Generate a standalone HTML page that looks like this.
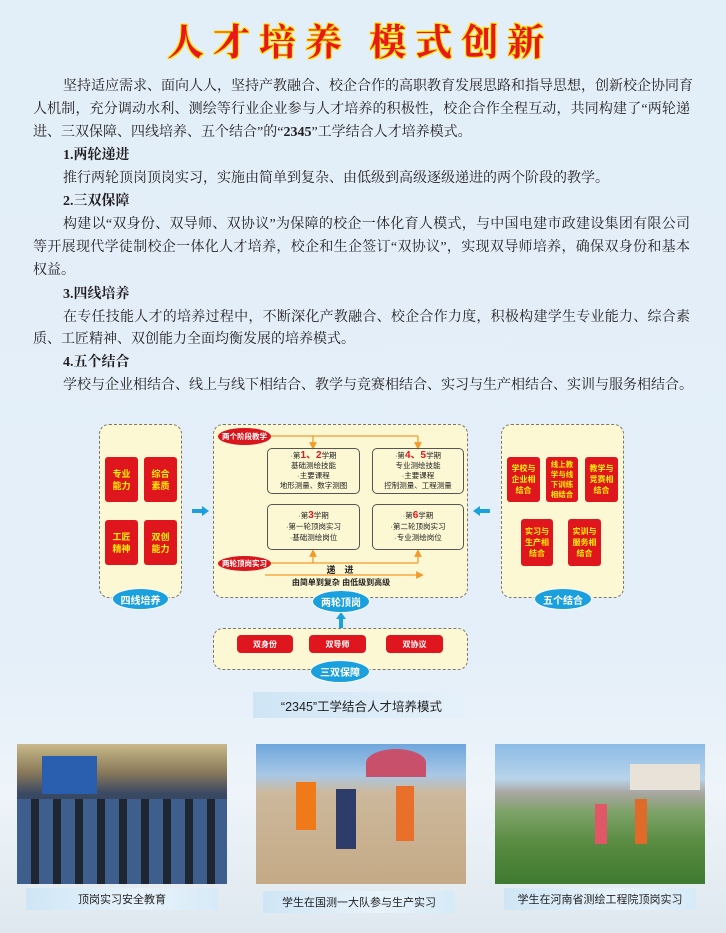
<!DOCTYPE html>
<html><head><meta charset="utf-8"><style>
*{margin:0;padding:0;box-sizing:border-box}
body{width:726px;height:933px;position:relative;overflow:hidden;background:linear-gradient(#e2eef8 0%,#e4eff9 70%,#eef4f9 85%,#dfe8ef 100%);font-family:"Liberation Serif","Noto Serif CJK SC",serif;color:#231f20}
.a{position:absolute}
.title{left:167px;top:16px;white-space:nowrap;font-family:"Noto Serif CJK SC",serif;font-weight:bold;font-size:37px;color:#e8161d;letter-spacing:9px;text-shadow:1px 1px 0 #ffe600,-1px -1px 0 #ffe600,1px -1px 0 #ffe600,-1px 1px 0 #ffe600;line-height:46px}
.ln{position:absolute;left:33px;width:657px;font-size:14px;line-height:20px;text-align:justify;text-align-last:justify;white-space:nowrap}
.ln.i{left:63px;width:627px}
.ln.l{text-align-last:left}
.h{font-weight:bold}
.box{position:absolute;background:#fcf8d4;border:1.5px dashed #777;border-radius:10px}
.rb{position:absolute;background:#e0161f;border-radius:3px;color:#fff200;font-family:"Liberation Sans","Noto Sans CJK SC",sans-serif;font-weight:bold;font-size:8px;line-height:11px;display:flex;align-items:center;justify-content:center;text-align:center}
.ov{position:absolute;background:#1aa0dd;border-radius:50%;color:#fff;font-family:"Liberation Sans","Noto Sans CJK SC",sans-serif;font-weight:bold;font-size:10px;display:flex;align-items:center;justify-content:center;border:1.5px solid #fff}
.ro{position:absolute;background:#d9151e;border-radius:50%;color:#fff;font-family:"Liberation Sans","Noto Sans CJK SC",sans-serif;font-weight:bold;font-size:7.5px;display:flex;align-items:center;justify-content:center}
.sb{position:absolute;border:1.3px solid #555;border-radius:5px;font-family:"Liberation Sans","Noto Sans CJK SC",sans-serif;font-size:7.5px;line-height:10px;text-align:center;color:#222;padding-top:2px}
.sb b{color:#e0161f;font-size:10px}
.btn{position:absolute;background:#e0161f;border-radius:4px;color:#fff;font-family:"Liberation Sans","Noto Sans CJK SC",sans-serif;font-size:8px;font-weight:bold;display:flex;align-items:center;justify-content:center}
.sans{font-family:"Liberation Sans","Noto Sans CJK SC",sans-serif}
.cap{position:absolute;background:linear-gradient(90deg,#cfe6f6,#e8f3fb 60%,#d6eaf7);font-family:"Liberation Sans","Noto Sans CJK SC",sans-serif;font-size:11px;color:#222;display:flex;align-items:center;justify-content:center}
</style></head><body>
<div class="a title">人才培养 模式创新</div>

<div class="ln i" style="top:77px">坚持适应需求、面向人人，坚持产教融合、校企合作的高职教育发展思路和指导思想，创新校企协同育</div>
<div class="ln" style="top:100px">人机制，充分调动水利、测绘等行业企业参与人才培养的积极性，校企合作全程互动，共同构建了“两轮递</div>
<div class="ln l" style="top:123px">进、三双保障、四线培养、五个结合”的“<b>2345</b>”工学结合人才培养模式。</div>
<div class="ln i l h" style="top:146px">1.两轮递进</div>
<div class="ln i l" style="top:169px">推行两轮顶岗顶岗实习，实施由简单到复杂、由低级到高级逐级递进的两个阶段的教学。</div>
<div class="ln i l h" style="top:192px">2.三双保障</div>
<div class="ln i" style="top:215px">构建以“双身份、双导师、双协议”为保障的校企一体化育人模式，与中国电建市政建设集团有限公司</div>
<div class="ln" style="top:238px">等开展现代学徒制校企一体化人才培养，校企和生企签订“双协议”，实现双导师培养，确保双身份和基本</div>
<div class="ln l" style="top:261px">权益。</div>
<div class="ln i l h" style="top:285px">3.四线培养</div>
<div class="ln i" style="top:308px">在专任技能人才的培养过程中，不断深化产教融合、校企合作力度，积极构建学生专业能力、综合素</div>
<div class="ln l" style="top:330px">质、工匠精神、双创能力全面均衡发展的培养模式。</div>
<div class="ln i l h" style="top:353px">4.五个结合</div>
<div class="ln i l" style="top:376px">学校与企业相结合、线上与线下相结合、教学与竞赛相结合、实习与生产相结合、实训与服务相结合。</div>

<!-- left -->
<div class="box" style="left:99px;top:424px;width:83px;height:174px"></div>
<div class="rb" style="left:105px;top:457px;width:33px;height:45px;font-size:9px;line-height:12px">专业<br>能力</div>
<div class="rb" style="left:144px;top:457px;width:33px;height:45px;font-size:9px;line-height:12px">综合<br>素质</div>
<div class="rb" style="left:105px;top:520px;width:33px;height:45px;font-size:9px;line-height:12px">工匠<br>精神</div>
<div class="rb" style="left:144px;top:520px;width:33px;height:45px;font-size:9px;line-height:12px">双创<br>能力</div>
<div class="ov" style="left:112px;top:588px;width:57px;height:22px">四线培养</div>

<!-- middle -->
<div class="box" style="left:213px;top:424px;width:255px;height:174px"></div>
<svg class="a" style="left:0;top:0" width="726" height="933">
<defs><marker id="ao" markerWidth="6" markerHeight="6" refX="3" refY="3" orient="auto"><path d="M0,0L6,3L0,6z" fill="#f39a2b"/></marker></defs>
<g stroke="#f39a2b" stroke-width="1.3" fill="none">
<path d="M270 436H418"/><path d="M313 436V446" marker-end="url(#ao)"/><path d="M418 436V446" marker-end="url(#ao)"/>
<path d="M270 563H418"/><path d="M313 563V553" marker-end="url(#ao)"/><path d="M418 563V553" marker-end="url(#ao)"/>
<path d="M265 575H420" marker-end="url(#ao)"/>
</g>
<g fill="#1aa0dd">
<path d="M192 509H202V506L209 511L202 516V513H192z"/>
<path d="M490 509H480V506L473 511L480 516V513H490z"/>
<path d="M339 628V619H336L341 612L346 619H343V628z"/>
</g>
</svg>
<div class="ro" style="left:218px;top:428px;width:53px;height:17px">两个阶段教学</div>
<div class="sb" style="left:267px;top:448px;width:93px;height:46px">·第<b>1、2</b>学期<br>基础测绘技能<br>·主要课程<br>地形测量、数字测图</div>
<div class="sb" style="left:372px;top:448px;width:92px;height:46px">·第<b>4、5</b>学期<br>专业测绘技能<br>·主要课程<br>控制测量、工程测量</div>
<div class="sb" style="left:267px;top:504px;width:93px;height:46px;padding-top:5px;line-height:11px">·第<b>3</b>学期<br>·第一轮顶岗实习<br>·基础测绘岗位</div>
<div class="sb" style="left:372px;top:504px;width:92px;height:46px;padding-top:5px;line-height:11px">·第<b>6</b>学期<br>·第二轮顶岗实习<br>·专业测绘岗位</div>
<div class="ro" style="left:218px;top:556px;width:53px;height:15px">两轮顶岗实习</div>
<div class="a sans" style="left:300px;top:563px;width:80px;text-align:center;font-size:9px;font-weight:bold">递　进</div>
<div class="a sans" style="left:276px;top:577px;width:130px;text-align:center;font-size:8px;font-weight:bold">由简单到复杂 由低级到高级</div>
<div class="ov" style="left:312px;top:590px;width:58px;height:23px">两轮顶岗</div>

<!-- right -->
<div class="box" style="left:501px;top:424px;width:123px;height:174px"></div>
<div class="rb" style="left:507px;top:457px;width:33px;height:45px">学校与<br>企业相<br>结合</div>
<div class="rb" style="left:546px;top:457px;width:32px;height:45px;font-size:7.5px;line-height:10px">线上教<br>学与线<br>下训练<br>相结合</div>
<div class="rb" style="left:585px;top:457px;width:33px;height:45px">教学与<br>竞赛相<br>结合</div>
<div class="rb" style="left:521px;top:519px;width:32px;height:47px">实习与<br>生产相<br>结合</div>
<div class="rb" style="left:568px;top:519px;width:33px;height:47px">实训与<br>服务相<br>结合</div>
<div class="ov" style="left:534px;top:588px;width:58px;height:22px">五个结合</div>

<!-- bottom -->
<div class="box" style="left:213px;top:628px;width:255px;height:42px"></div>
<div class="btn" style="left:237px;top:635px;width:56px;height:18px">双身份</div>
<div class="btn" style="left:309px;top:635px;width:57px;height:18px">双导师</div>
<div class="btn" style="left:386px;top:635px;width:57px;height:18px">双协议</div>
<div class="ov" style="left:310px;top:660px;width:60px;height:23px">三双保障</div>
<div class="cap" style="left:253px;top:692px;width:217px;height:26px;font-size:12.5px;background:linear-gradient(90deg,#cfe5f5,#e6f1fa)">“2345”工学结合人才培养模式</div>

<!-- photos -->
<div class="a" style="left:17px;top:744px;width:210px;height:140px;background:linear-gradient(180deg,#c9b98a 0%,#8a7a5a 20%,#3b4a63 35%,#2e3e5a 60%,#1f2a3a 100%)">
<div class="a" style="left:25px;top:12px;width:55px;height:38px;background:#2a5fb0"></div>
<div class="a" style="left:0;top:55px;width:210px;height:85px;background:repeating-linear-gradient(90deg,#3e5f8e 0 14px,#1e2631 14px 22px)"></div>
</div>
<div class="a" style="left:256px;top:744px;width:210px;height:140px;background:linear-gradient(180deg,#6ea6dc 0%,#a8c8e6 22%,#cdb89c 35%,#c4aa86 100%)">
<div class="a" style="left:40px;top:38px;width:20px;height:48px;background:#f07a1a"></div>
<div class="a" style="left:80px;top:45px;width:20px;height:60px;background:#2e3c6a"></div>
<div class="a" style="left:140px;top:42px;width:18px;height:55px;background:#e8702a"></div>
<div class="a" style="left:110px;top:5px;width:60px;height:28px;border-radius:50% 50% 0 0;background:#c8506a"></div>
</div>
<div class="a" style="left:495px;top:744px;width:210px;height:140px;background:linear-gradient(180deg,#8dbbe6 0%,#b8d4ea 25%,#a9a6a0 35%,#7fa36a 48%,#5a8c42 70%,#3e7a30 100%)">
<div class="a" style="left:135px;top:20px;width:70px;height:26px;background:#e8e2d8"></div>
<div class="a" style="left:100px;top:60px;width:12px;height:40px;background:#e05868"></div>
<div class="a" style="left:140px;top:55px;width:12px;height:45px;background:#e06a2a"></div>
</div>
<div class="cap" style="left:26px;top:888px;width:192px;height:22px">顶岗实习安全教育</div>
<div class="cap" style="left:263px;top:891px;width:192px;height:22px">学生在国测一大队参与生产实习</div>
<div class="cap" style="left:504px;top:888px;width:192px;height:22px">学生在河南省测绘工程院顶岗实习</div>
</body></html>
